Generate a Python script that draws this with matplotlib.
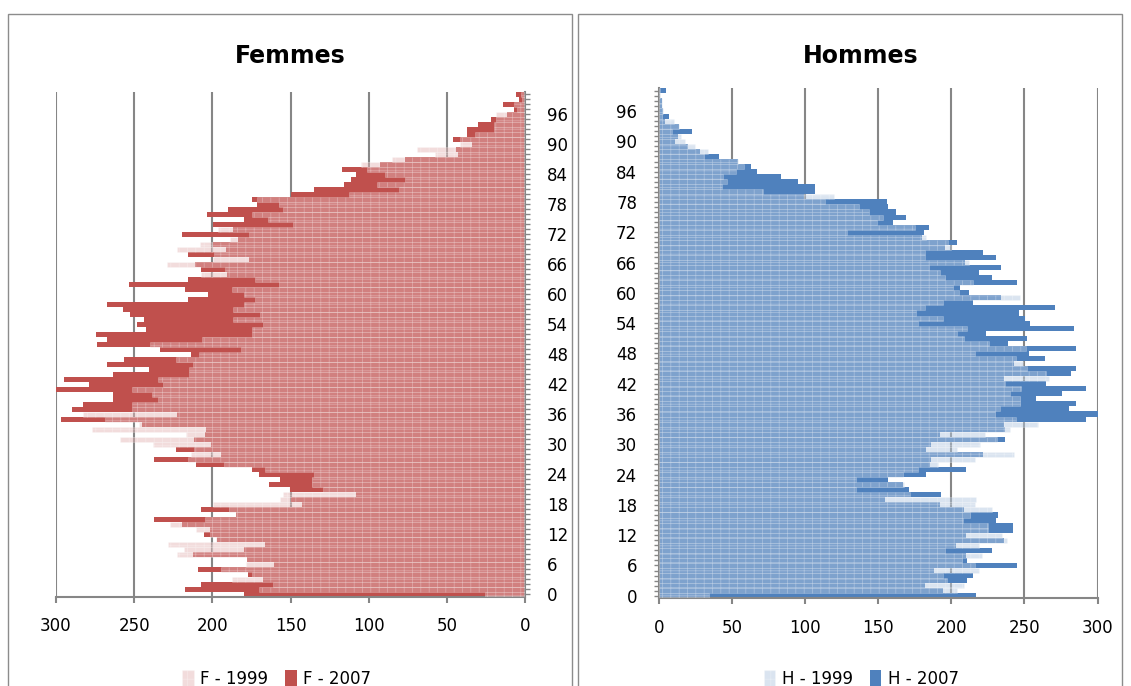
import matplotlib.pyplot as plt
from matplotlib.patches import Rectangle, Patch

# ages 0..100
ages = list(range(101))

f_1999 = [26, 170.4, 161.6, 187.4, 174.5, 194.8, 178.5, 178, 222.6, 218.4,
          228.5, 198, 201.7, 210.4, 227.4, 204.5, 185, 189.6, 199.4, 157,
          155.2, 129.4, 136.4, 136.4, 135.3, 166.6, 192.6, 215.3, 213.6, 211.5,
          238, 259, 217, 277, 247, 268.7, 282.8, 251.5, 251.5, 234.7,
          238.5, 251.3, 231.7, 234.7, 214.7, 214.7, 212.6, 223.6, 208.5, 181.5,
          239.6, 206.6, 174.5, 175, 167.4, 186.6, 169.6, 186.6, 179.6, 172.6,
          179.6, 187.4, 157.4, 172.6, 207.4, 191.7, 229, 199.6, 198.7, 222.5,
          207.7, 188.5, 176.4, 196.6, 148.5, 164.5, 174.5, 155, 157.5, 171.5,
          112.5, 81, 95, 77, 90, 101, 105, 85, 58, 69,
          42, 42, 32, 20, 20, 19, 19, 5.5, 7, 2, 3]

f_2007 = [179.6, 217.4, 207.4, 167.4, 177.4, 209.5, 160.4, 178, 212.6, 179.6,
          166.6, 197, 205.5, 201.7, 219.4, 237.4, 185, 207.4, 142.6, 150,
          108.5, 150.4, 163.6, 156.5, 170.4, 174.4, 210.4, 237.4, 194.8, 223.6,
          200.6, 212, 205, 204, 245, 296.8, 222.6, 289.6, 282.8, 263.6,
          263.6, 304.7, 278.7, 294.7, 263.6, 240.6, 267.7, 256.6, 213.6, 233.6,
          273.6, 267.7, 274.7, 242.6, 248.5, 243.6, 252.6, 257.4, 267.7, 215.5,
          202.6, 217.7, 253.6, 215.5, 190.6, 207.4, 211, 176.4, 215.5, 191.5,
          199.6, 183.4, 219.6, 186.8, 199.6, 180, 203.6, 190, 171.5, 174.5,
          150, 135, 116, 111.5, 108.5, 117, 93, 77, 43, 44,
          34, 46, 37, 37, 30, 22, 12, 7, 14, 4, 6]

h_1999 = [34.2, 203.8, 208.6, 197, 194, 218.6, 216, 207, 221, 196,
          219, 238, 234.6, 225, 225, 208, 213, 227.8, 216, 216.8,
          171.7, 135, 168, 135, 167, 177, 191, 216, 242.6, 204,
          219.8, 231.2, 223, 240, 259, 244, 230, 233, 247, 247,
          240, 247.6, 237, 266.7, 265, 251.7, 248.7, 244, 216, 251,
          226, 209, 204, 211, 177, 194, 176, 182, 194, 246.7,
          205.4, 200.9, 214.8, 196, 192, 185, 212, 182, 182, 200,
          198, 183, 129, 175, 149, 153, 144, 136.6, 114, 119.5,
          71.6, 43, 47, 44, 53, 58, 54, 31, 34, 25,
          18, 15, 9, 14, 10.5, 2, 3, 2, 2, 1, 1]

h_2007 = [216.8, 194, 182, 211, 214.8, 188.3, 244.8, 211, 210, 227.8,
          203, 236, 210, 242, 242, 230.5, 232, 209, 192.4, 155,
          193, 170.8, 167, 157, 182.8, 209.8, 185.6, 186, 221.6, 183,
          186, 236.9, 192, 237, 236, 291.8, 302, 280.6, 285, 257.8,
          276, 292, 265, 236.2, 281.8, 285, 243, 263.8, 252.8, 285,
          239, 251.7, 224, 283.6, 254, 250.5, 246, 270.8, 214.8, 234,
          211.8, 205.7, 244.9, 227.7, 218.6, 234, 209.5, 230.4, 222, 196,
          204, 180, 181, 185, 160, 169, 162, 157, 156, 99,
          106.7, 106.7, 95, 83.7, 67, 63, 54, 41, 28, 20,
          11, 13.5, 23, 14, 4.3, 7, 3, 2.5, 2, 1, 5]

xticks = [0, 50, 100, 150, 200, 250, 300]
yticks = list(range(0, 97, 6))

plt.rcParams['font.family'] = ['DejaVu Sans']
plt.rcParams['hatch.linewidth'] = 0.5

RED = '#C0504D'
BLUE = '#4F81BD'
PINK = (228/255, 182/255, 182/255, 0.48)
LBLUE = (178/255, 199/255, 224/255, 0.48)
GREY = '#868686'
HATCH_EDGE = (1, 1, 1, 0.35)

W, H = 1131, 686
fig = plt.figure(figsize=(W/100, H/100), dpi=100)

# outer chart frames (Excel chart areas)
for x0, x1 in [(8, 572), (578, 1122)]:
    fig.patches.append(Rectangle((x0/W, -0.05), (x1 - x0)/W, 1 - 14/H + 0.05,
                                 transform=fig.transFigure, fill=False,
                                 edgecolor='#8c8c8c', lw=1))


def panel(ax, v1999, v2007, dark, light, left_side):
    ax.barh(ages, v2007, height=1.0, color=dark, lw=0, zorder=2)
    ax.barh(ages, v1999, height=1.0, color=light, edgecolor=HATCH_EDGE,
            lw=0.4, hatch='++', zorder=3)
    ax.set_ylim(-0.5, 100.5)
    ax.set_xticks(xticks)
    ax.set_yticks(yticks)
    ax.set_yticks(ages, minor=True)
    ax.set_axisbelow(True)
    ax.xaxis.grid(True, color=GREY, lw=1.5)
    for s in ax.spines.values():
        s.set_visible(False)
    ax.spines['bottom'].set_visible(True)
    ax.spines['bottom'].set_color(GREY)
    ax.spines['bottom'].set_linewidth(1.5)
    if left_side:
        ax.set_xlim(300, 0)
        ax.yaxis.tick_right()
        sp = ax.spines['right']
    else:
        ax.set_xlim(0, 300)
        sp = ax.spines['left']
    sp.set_visible(True)
    sp.set_color(GREY)
    sp.set_linewidth(1.5)
    ax.tick_params(axis='y', which='both', length=3.5, width=1, color=GREY,
                   pad=12, labelsize=12)
    ax.tick_params(axis='x', length=4, width=1.5, color=GREY, pad=11,
                   labelsize=12)


axf = fig.add_axes([56/W, 1 - 596.5/H, (525.3 - 56)/W, 505/H])
panel(axf, f_1999, f_2007, RED, PINK, True)

axh = fig.add_axes([658.7/W, 1 - 598.3/H, (1097.6 - 658.7)/W, 510/H])
panel(axh, h_1999, h_2007, BLUE, LBLUE, False)

fig.text(290/W, 1 - 56/H, 'Femmes', ha='center', va='center',
         fontsize=17, fontweight='bold')
fig.text(861/W, 1 - 56/H, 'Hommes', ha='center', va='center',
         fontsize=17, fontweight='bold')

for cx, light, dark, tag in [(276.5, PINK, RED, 'F'), (861.5, LBLUE, BLUE, 'H')]:
    handles = [Patch(facecolor=light, edgecolor=HATCH_EDGE, hatch='++', lw=0.4),
               Patch(facecolor=dark, lw=0)]
    fig.legend(handles, [tag + ' - 1999', tag + ' - 2007'], ncol=2,
               loc='center', bbox_to_anchor=(cx/W, 1 - 679/H), frameon=False,
               fontsize=12, handlelength=0.7, handleheight=1.1,
               handletextpad=0.4, columnspacing=1.0)

fig.savefig('out.png', dpi=100)
